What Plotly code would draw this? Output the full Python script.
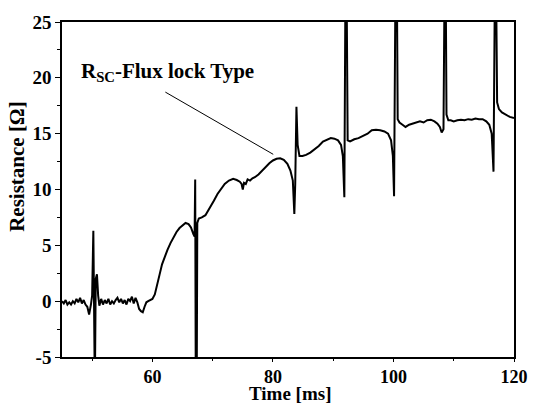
import plotly.graph_objects as go

# Time [ms]
time_ms = [
    45.0, 45.3, 45.6, 45.9, 46.2, 46.5, 46.8, 47.1, 47.4, 47.7, 48.0, 48.3, 48.6, 48.9, 49.2, 49.5, 49.8,
    50.0, 50.2, 50.3, 50.45, 50.6, 50.8, 51.0, 51.2, 51.5, 51.8, 52.1, 52.4, 52.7, 53.0, 53.3, 53.6, 53.9,
    54.2, 54.5, 54.8, 55.1, 55.4, 55.7, 56.0, 56.3, 56.6, 56.9, 57.2, 57.5, 57.8, 58.1, 58.4, 58.7, 59.0,
    59.3, 59.6, 60.0, 60.4, 60.8, 61.2, 61.6, 62.0, 62.5, 63.0, 63.5, 64.0, 64.5, 65.0, 65.5, 66.0, 66.4,
    66.8, 67.0, 67.1, 67.2, 67.35, 67.45, 67.7, 68.2, 68.8, 69.5, 70.2, 70.8, 71.4, 72.0, 72.7, 73.4, 74.0,
    74.5, 74.8, 75.0, 75.2, 75.5, 75.8, 76.2, 76.6, 77.0, 77.6, 78.2, 78.8, 79.4, 80.0, 80.6, 81.2, 81.8,
    82.4, 82.9, 83.3, 83.55, 83.7, 83.9, 84.1, 84.4, 84.9, 85.5, 86.2, 86.9, 87.6, 88.3, 89.0, 89.6, 90.2,
    90.8, 91.3, 91.6, 91.85, 92.05, 92.2, 92.4, 92.8, 93.5, 94.2, 95.0, 95.7, 96.4, 97.1, 97.8, 98.5, 99.1,
    99.6, 99.9, 100.1, 100.35, 100.55, 100.7, 101.0, 101.5, 102.0, 102.6, 103.2, 103.8, 104.4, 105.0, 105.6,
    106.2, 106.8, 107.3, 107.7, 108.0, 108.3, 108.5, 108.65, 108.8, 109.1, 109.5, 110.0, 110.6, 111.2, 111.8,
    112.4, 113.0, 113.6, 114.2, 114.8, 115.4, 115.9, 116.3, 116.6, 116.85, 117.0, 117.2, 117.5, 118.0, 118.6,
    119.3, 120.0,
]

# Resistance [Ω]
resistance = [
    0.0, -0.2, 0.1, -0.3, -0.1, -0.3, 0.0, -0.2, 0.2, -0.1, 0.3, -0.2, 0.1, -0.3, -0.5, -1.2, -0.3,
    0.5, 6.3, -8.0, -8.0, 2.0, 2.4, 0.5, -0.4, 0.2, -0.3, 0.1, -0.2, 0.2, -0.3, 0.0, -0.2, 0.1,
    0.3, -0.1, 0.2, -0.2, 0.1, -0.3, 0.2, 0.0, 0.4, -0.2, 0.3, -0.1, -0.7, -0.9, -1.0, -0.5, -0.1,
    0.0, 0.1, 0.2, 0.6, 1.4, 2.4, 3.3, 3.9, 4.6, 5.2, 5.7, 6.2, 6.55, 6.8, 7.0, 6.9, 6.6,
    6.0, 5.8, 10.9, -8.0, -8.0, 7.0, 7.4, 7.5, 7.7, 8.3, 9.0, 9.6, 10.1, 10.5, 10.8, 10.95, 10.85,
    10.7, 10.5, 10.0, 10.6, 10.5, 10.9, 10.8, 11.0, 11.1, 11.35, 11.7, 12.0, 12.35, 12.6, 12.75, 12.8, 12.65,
    12.3, 11.7, 10.8, 7.8, 10.5, 17.4, 14.0, 13.0, 13.0, 13.1, 13.3, 13.6, 13.9, 14.3, 14.5, 14.6, 14.55,
    14.4, 14.0, 13.0, 9.3, 30.0, 30.0, 14.4, 14.3, 14.5, 14.6, 14.8, 15.0, 15.3, 15.35, 15.3, 15.2, 15.0,
    14.4, 13.0, 9.4, 30.0, 30.0, 16.3, 16.0, 15.8, 15.6, 15.8, 15.9, 16.0, 16.1, 16.0, 16.2,
    16.25, 16.1, 15.9, 15.6, 15.1, 15.4, 30.0, 30.0, 16.7, 16.2, 16.2, 16.1, 16.2, 16.25, 16.2,
    16.3, 16.25, 16.35, 16.3, 16.3, 16.1, 15.8, 15.0, 11.6, 30.0, 30.0, 17.8, 17.2, 16.9, 16.7,
    16.5, 16.4,
]

x_tickvals = [60, 80, 100, 120]
x_ticktext = ["60", "80", "100", "120"]
y_tickvals = [-5, 0, 5, 10, 15, 20, 25]
y_ticktext = ["-5", "0", "5", "10", "15", "20", "25"]

x_title = "Time [ms]"
y_title = "Resistance [Ω]"
label_text = "R<sub>SC</sub>-Flux lock Type"
label_pos = (62.5, 20.5)
arrow_tail = (61.9, 18.8)
arrow_head = (80.05, 13.15)

SERIF = "Liberation Serif"

fig = go.Figure()
fig.add_trace(go.Scatter(
    x=time_ms, y=resistance, mode="lines",
    line=dict(color="black", width=2),
    showlegend=False,
))

fig.add_annotation(
    x=label_pos[0], y=label_pos[1], xref="x", yref="y",
    text=label_text, showarrow=False,
    font=dict(family=SERIF, size=21, color="black", weight="bold"),
)
fig.add_annotation(
    x=arrow_head[0], y=arrow_head[1], ax=arrow_tail[0], ay=arrow_tail[1],
    xref="x", yref="y", axref="x", ayref="y",
    text="", showarrow=True, arrowhead=0, arrowwidth=1, arrowcolor="black",
)
# axis titles placed as annotations to match the reference positions
fig.add_annotation(
    x=0.505, y=-0.1466, xref="paper", yref="paper",
    text=x_title, showarrow=False, xanchor="center", yanchor="bottom",
    font=dict(family=SERIF, size=19, color="black", weight="bold"),
)
fig.add_annotation(
    x=-0.1, y=0.57, xref="paper", yref="paper",
    text=y_title, showarrow=False, textangle=-90, xanchor="center", yanchor="middle",
    font=dict(family=SERIF, size=21, color="black", weight="bold"),
)

axis_common = dict(
    showline=True, linecolor="black", linewidth=1.5, mirror=True,
    ticks="outside", tickwidth=1.2, tickcolor="black",
    showgrid=False, zeroline=False,
)

fig.update_xaxes(
    range=[45, 120], tickvals=x_tickvals, ticktext=x_ticktext, ticklen=3,
    tickfont=dict(family=SERIF, size=18, color="black", weight="bold"),
    minor=dict(ticks="outside", ticklen=2, tickwidth=1, tickcolor="black", dtick=10, tick0=0),
    **axis_common,
)
fig.update_yaxes(
    range=[-5, 25], tickvals=y_tickvals, ticktext=y_ticktext, ticklen=5,
    tickfont=dict(family=SERIF, size=19, color="black", weight="bold"),
    minor=dict(ticks="outside", ticklen=3, tickwidth=1, tickcolor="black", dtick=2.5, tick0=0),
    **axis_common,
)

fig.update_layout(
    width=540, height=407,
    margin=dict(l=62, r=17, t=14, b=50),
    paper_bgcolor="white", plot_bgcolor="white",
)

fig.write_html("out.html")
